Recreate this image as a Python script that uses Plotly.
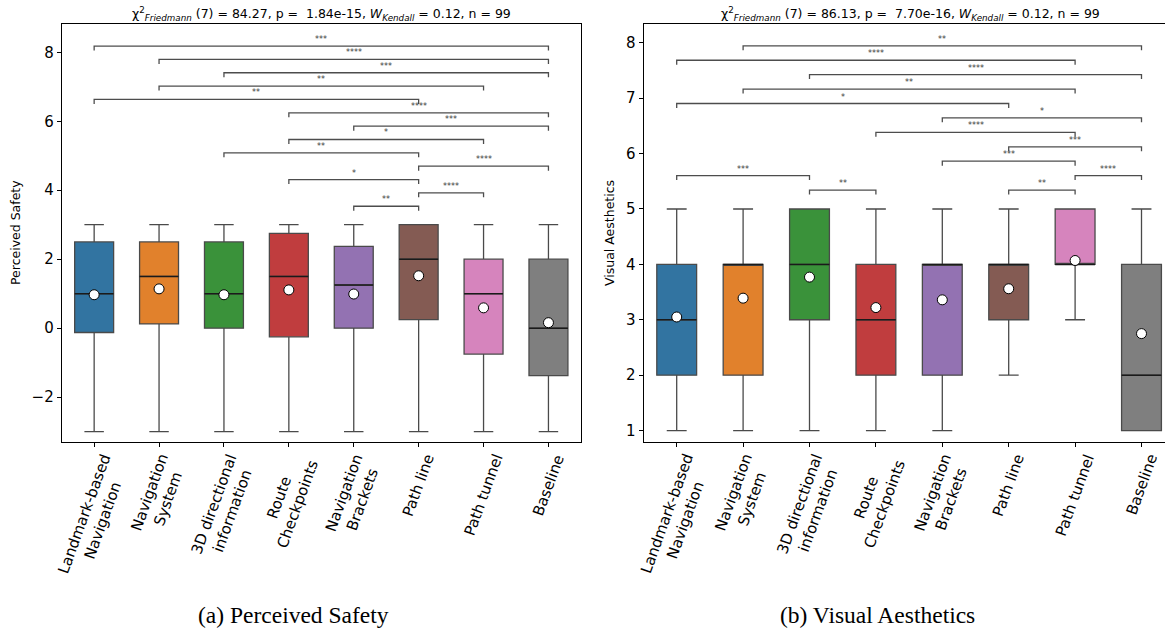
import plotly.graph_objects as go

# Conditions (x categories) and their box colours
conditions = [
    "Landmark-based<br>Navigation",
    "Navigation<br>System",
    "3D directional<br>information",
    "Route<br>Checkpoints",
    "Navigation<br>Brackets",
    "Path line",
    "Path tunnel",
    "Baseline",
]
colors = ["#3274a1", "#e1812c", "#3a923a", "#c03d3e",
          "#9372b2", "#845b53", "#d684bd", "#7f7f7f"]

# Perceived Safety summary statistics
ps_low = [-3, -3, -3, -3, -3, -3, -3, -3]
ps_q1 = [-0.125, 0.125, 0.0, -0.25, 0.0, 0.25, -0.75, -1.375]
ps_median = [1.0, 1.5, 1.0, 1.5, 1.25, 2.0, 1.0, 0.0]
ps_q3 = [2.5, 2.5, 2.5, 2.75, 2.375, 3.0, 2.0, 2.0]
ps_high = [3, 3, 3, 3, 3, 3, 3, 3]
ps_mean = [0.97, 1.14, 0.97, 1.11, 0.99, 1.52, 0.59, 0.16]
ps_ticks = [-2, 0, 2, 4, 6, 8]

# Visual Aesthetics summary statistics
va_low = [1, 1, 1, 1, 1, 2, 3, 1]
va_q1 = [2, 2, 3, 2, 2, 3, 4, 1]
va_median = [3, 4, 4, 3, 4, 4, 4, 2]
va_q3 = [4, 4, 5, 4, 4, 4, 5, 4]
va_high = [5, 5, 5, 5, 5, 5, 5, 5]
va_mean = [3.05, 3.39, 3.77, 3.22, 3.36, 3.56, 4.07, 2.75]
va_ticks = [1, 2, 3, 4, 5, 6, 7, 8]

# Significant post-hoc pairs: (condition a, condition b, stars, stacking row from top)
ps_pairs = [
    (0, 7, "***", 0), (1, 7, "****", 1), (2, 7, "***", 2), (1, 6, "**", 3),
    (0, 5, "**", 4), (3, 7, "****", 5), (4, 7, "***", 6), (3, 6, "*", 7),
    (2, 5, "**", 8), (5, 7, "****", 9), (3, 5, "*", 10), (5, 6, "****", 11),
    (4, 5, "**", 12),
]
va_pairs = [
    (1, 7, "**", 0), (0, 6, "****", 1), (2, 7, "****", 2), (1, 6, "**", 3),
    (0, 5, "*", 4), (4, 7, "*", 5), (3, 6, "****", 6), (5, 7, "***", 7),
    (4, 6, "***", 8), (0, 2, "***", 9), (6, 7, "****", 9), (2, 3, "**", 10),
    (5, 6, "**", 10),
]

ps_title = ("χ<sup>2</sup><sub><i>Friedmann</i></sub> (7) = 84.27, p = \u00a01.84e-15, "
            "<i>W</i><sub><i>Kendall</i></sub> = 0.12, n = 99")
va_title = ("χ<sup>2</sup><sub><i>Friedmann</i></sub> (7) = 86.13, p = \u00a07.70e-16, "
            "<i>W</i><sub><i>Kendall</i></sub> = 0.12, n = 99")

W, H = 1165, 633
FONT = "DejaVu Sans"
BOX_W = 0.6
EDGE = "#4a4a4a"

fig = go.Figure()


def add_panel(xa, ya, low, q1, med, q3, high, mean):
    for i in range(len(conditions)):
        fig.add_trace(go.Box(
            x=[i], q1=[q1[i]], median=[med[i]], q3=[q3[i]],
            lowerfence=[low[i]], upperfence=[high[i]],
            width=BOX_W, whiskerwidth=0.5, boxpoints=False,
            fillcolor=colors[i], line=dict(color=EDGE, width=1.3),
            xaxis=xa, yaxis=ya, hoverinfo="skip",
        ))
    # darker median bars on top of the boxes
    mx, my = [], []
    for i, m in enumerate(med):
        mx += [i - BOX_W / 2, i + BOX_W / 2, None]
        my += [m, m, None]
    fig.add_trace(go.Scatter(x=mx, y=my, mode="lines",
                             line=dict(color="#1a1a1a", width=1.5),
                             xaxis=xa, yaxis=ya, hoverinfo="skip"))
    # mean markers
    fig.add_trace(go.Scatter(
        x=list(range(len(conditions))), y=mean, mode="markers",
        marker=dict(symbol="circle", size=10, color="white",
                    line=dict(color="black", width=1)),
        xaxis=xa, yaxis=ya, hoverinfo="skip"))


add_panel("x", "y", ps_low, ps_q1, ps_median, ps_q3, ps_high, ps_mean)
add_panel("x2", "y2", va_low, va_q1, va_median, va_q3, va_high, va_mean)


def add_brackets(pairs, xref, yref, top, step, tick):
    for a, b, label, row in pairs:
        y = top - row * step
        fig.add_shape(type="path",
                      path=f"M {a},{y - tick} L {a},{y} L {b},{y} L {b},{y - tick}",
                      xref=xref, yref=yref,
                      line=dict(color="#4d4d4d", width=1.3))
        fig.add_annotation(x=(a + b) / 2, y=y, xref=xref, yref=yref,
                           text=label, showarrow=False, yanchor="bottom",
                           xanchor="center",
                           font=dict(family=FONT, size=8, color="#3c3c3c"))


add_brackets(ps_pairs, "x", "y", 8.18, 0.387, 0.13)
add_brackets(va_pairs, "x2", "y2", 7.946, 0.2604, 0.08)

# pixel geometry of the two axes
y_bot, y_top = 442, 24
ydom = [(H - y_bot) / H, (H - y_top) / H]
left_dom = [61.7 / W, 580.9 / W]
right_dom = [643.5 / W, 1.0]
right_span = (W - 643.5) / 66.4

axis_common = dict(showline=True, linecolor="black", linewidth=1,
                   ticks="outside", ticklen=4, tickcolor="black",
                   showgrid=False, zeroline=False,
                   tickfont=dict(family=FONT, size=15, color="black"))

fig.update_layout(
    width=W, height=H, margin=dict(l=0, r=0, t=0, b=0),
    paper_bgcolor="white", plot_bgcolor="white", showlegend=False,
    xaxis=dict(domain=left_dom, range=[-0.5, 7.5], anchor="y",
               tickvals=list(range(8)), showticklabels=False, mirror=True,
               **axis_common),
    yaxis=dict(domain=ydom, range=[-3.30, 8.82], anchor="x",
               tickvals=ps_ticks, mirror=True, **axis_common),
    xaxis2=dict(domain=right_dom, range=[-0.5, -0.5 + right_span], anchor="y2",
                tickvals=list(range(8)), showticklabels=False, mirror=True,
                **axis_common),
    yaxis2=dict(domain=ydom, range=[0.793, 8.34], anchor="x2",
                tickvals=va_ticks, mirror=False, **axis_common),
)

# rotated category labels, centred under each tick
for xref in ("x", "x2"):
    for i, name in enumerate(conditions):
        fig.add_annotation(x=i, xref=xref, y=ydom[0], yref="paper",
                           text=name, showarrow=False, textangle=-70,
                           xanchor="center", yanchor="top", yshift=-7,
                           align="center",
                           font=dict(family=FONT, size=15, color="black"))


def paper_text(x_px, y_px, text, size, family=FONT, angle=0):
    fig.add_annotation(x=x_px / W, y=1 - y_px / H, xref="paper", yref="paper",
                       text=text, showarrow=False, textangle=angle,
                       xanchor="center", yanchor="middle",
                       font=dict(family=family, size=size, color="black"))


y_mid = (y_bot + y_top) / 2

# axis titles
paper_text(15, y_mid, "Perceived Safety", 12.5, angle=-90)
paper_text(609, y_mid, "Visual Aesthetics", 12.5, angle=-90)

# test statistics above each panel
paper_text(321, 14, ps_title, 12.5)
paper_text(910, 14, va_title, 12.5)

# sub-figure captions
paper_text(293, 615, "(a) Perceived Safety", 23.5, family="Liberation Serif")
paper_text(877, 615, "(b) Visual Aesthetics", 23.5, family="Liberation Serif")

fig.write_html("out.html", config={"displayModeBar": False})
